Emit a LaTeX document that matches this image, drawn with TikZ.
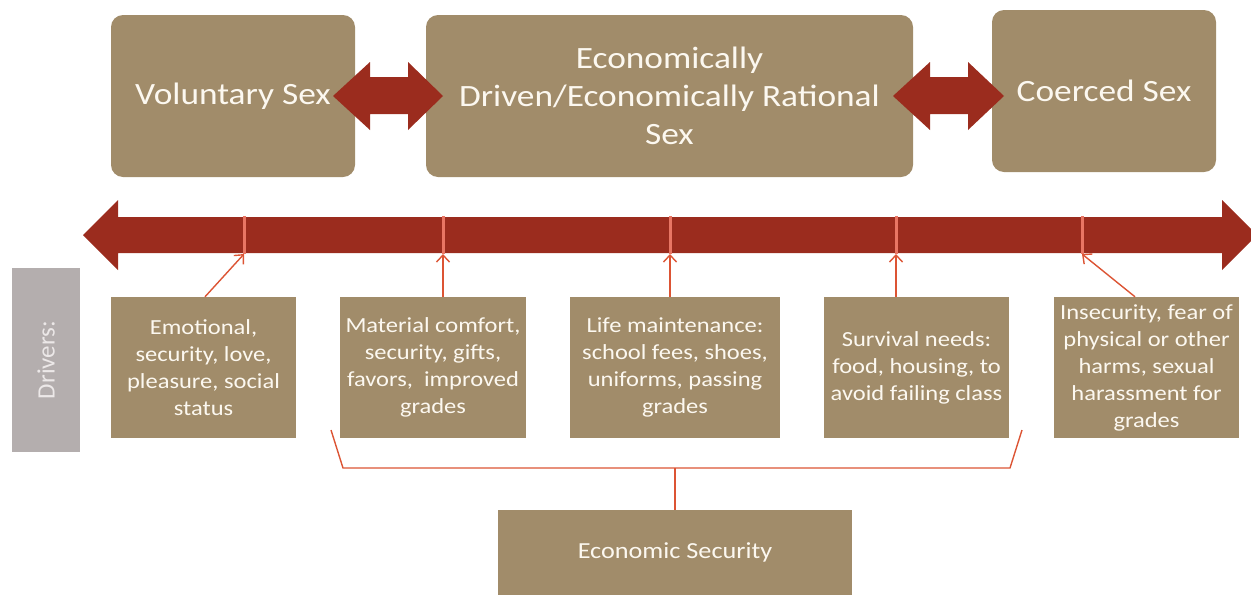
\documentclass[tikz,border=0pt]{standalone}
\usepackage{fontspec}
\setmainfont{Carlito}
\newfontfamily\wide[FakeStretch=1.14]{Carlito}
\usetikzlibrary{arrows.meta}
\definecolor{tan}{RGB}{161,140,106}
\definecolor{darkred}{RGB}{155,44,30}
\definecolor{salmon}{RGB}{232,118,100}
\definecolor{orangered}{RGB}{220,84,52}
\definecolor{txt}{RGB}{252,248,240}
\definecolor{grayb}{RGB}{180,174,174}
\tikzset{
  topbox/.style={fill=tan, rounded corners=12pt, text=txt, align=center, inner sep=0pt,
    font=\wide\fontsize{31}{38}\selectfont},
  drvbox/.style={fill=tan, text=txt, align=center, inner sep=0pt, minimum height=141pt,
    font=\wide\fontsize{21.5}{27}\selectfont},
  redarrow/.style={fill=darkred},
  tickmark/.style={draw=salmon, line width=3pt},
  drvarrow/.style={draw=orangered, line width=1.4pt, -{Straight Barb[length=7pt,width=13pt,line width=1.4pt]}},
  bracket/.style={draw=orangered, line width=1.4pt}
}
\begin{document}
\begin{tikzpicture}[x=1pt,y=-1pt]
\useasboundingbox (0,0) rectangle (1251,595);
% top boxes
\node[topbox, minimum width=244pt, minimum height=162pt] (vol) at (233,96) {Voluntary Sex};
\node[topbox, minimum width=487pt, minimum height=162pt] (eco) at (669.5,96) {Economically\\Driven/Economically Rational\\Sex};
\node[topbox, minimum width=224pt, minimum height=162pt] (coe) at (1104,91) {Coerced Sex};
% double arrows
\fill[redarrow] (333,96) -- (370,62) -- (370,77) -- (408,77) -- (408,62) -- (443,96)
  -- (408,130) -- (408,114) -- (370,114) -- (370,130) -- cycle;
\fill[redarrow] (893,96) -- (930,62) -- (930,77) -- (968,77) -- (968,62) -- (1004,96)
  -- (968,130) -- (968,114) -- (930,114) -- (930,130) -- cycle;
% timeline
\fill[redarrow] (83,235) -- (118,200) -- (118,217) -- (1222,217) -- (1222,200) -- (1257,235)
  -- (1222,270) -- (1222,253) -- (118,253) -- (118,270) -- cycle;
% ticks
\foreach \n/\x in {1/244,2/443,3/670,4/896,5/1082}{
  \coordinate (t\n a) at (\x,216);
  \coordinate (t\n b) at (\x,254);
  \draw[tickmark] (t\n a) -- (t\n b);
}
% drivers label
\node[fill=grayb, minimum width=68pt, minimum height=184pt, inner sep=0pt] (lab) at (46,360) {};
\node[rotate=90, text={rgb,255:red,236;green,232;blue,232}, font=\fontsize{25}{29}\selectfont] at (lab.center) {Drivers:};
% driver boxes
\node[drvbox, minimum width=185pt] (b1) at (203.5,367.5) {Emotional,\\security, love,\\pleasure, social\\status};
\node[drvbox, minimum width=186pt] (b2) at (433,367.5) {Material comfort,\\security, gifts,\\favors,\ \ improved\\grades};
\node[drvbox, minimum width=210pt] (b3) at (675,367.5) {Life maintenance:\\school fees, shoes,\\uniforms, passing\\grades};
\node[drvbox, minimum width=185pt] (b4) at (916.5,367.5) {Survival needs:\\food, housing, to\\avoid failing class};
\node[drvbox, minimum width=185pt] (b5) at (1146.5,367.5) {Insecurity, fear of\\physical or other\\harms, sexual\\harassment for\\grades};
% driver arrows
\draw[drvarrow] ([xshift=1.5pt]b1.north) -- (t1b);
\draw[drvarrow] (b2.north -| t2b) -- (t2b);
\draw[drvarrow] (b3.north -| t3b) -- (t3b);
\draw[drvarrow] (b4.north -| t4b) -- (t4b);
\draw[drvarrow] ([xshift=-11.5pt]b5.north) -- (t5b);
% economic security
\node[fill=tan, text=txt, minimum width=354pt, minimum height=85pt, inner sep=0pt,
  font=\wide\fontsize{23}{27}\selectfont] (es) at (675,552.5) {Economic Security};
% bracket
\coordinate (bl1) at (331,430);
\coordinate (bl2) at (343,468);
\coordinate (br2) at (1010,468);
\coordinate (br1) at (1022,430);
\coordinate (bm) at (675,468);
\draw[bracket] (bl1) -- (bl2) -- (br2) -- (br1);
\draw[bracket] (bm) -- (es.north);
\end{tikzpicture}
\end{document}
